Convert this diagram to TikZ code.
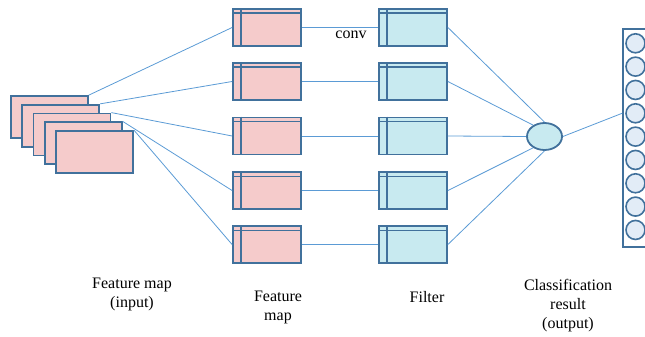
\documentclass[tikz,border=0pt]{standalone}
\usepackage{fontspec}
\setmainfont{Liberation Serif}
\usetikzlibrary{shapes.geometric}
\definecolor{pinkf}{HTML}{F5CBCB}
\definecolor{cyanf}{HTML}{C8EAF0}
\definecolor{outf}{HTML}{E2ECF7}
\definecolor{edge}{HTML}{41719C}
\definecolor{wire}{HTML}{5B9BD5}
\tikzset{
  inbox/.style={draw=edge, line width=1.8pt, fill=pinkf, minimum width=77pt, minimum height=42pt, inner sep=0pt},
  fmbox/.style={draw=edge, line width=1.8pt, minimum width=68pt, minimum height=37pt, inner sep=0pt},
  wirel/.style={draw=wire, line width=0.8pt},
  lbl/.style={font=\fontsize{16}{19}\selectfont, align=center, inner sep=0pt},
}
\begin{document}
\begin{tikzpicture}[x=1pt,y=-1pt]
\useasboundingbox (0,0) rectangle (645,337);
\clip (0,0) rectangle (645,337);
% feature maps and filters
\foreach \i/\y in {1/27.5,2/81.5,3/136,4/190.5,5/244.5}{
  \node[fmbox, fill=pinkf] (fm\i) at (267,\y) {};
  \node[fmbox, fill=cyanf] (fl\i) at (413,\y) {};
}
% input stack
\foreach \i in {0,...,4}{
  \node[inbox] (in\i) at ({49.5+11.25*\i},{117+8.75*\i}) {};
}
% inner lines
\foreach \n in {fm1,fm2,fm3,fm4,fm5,fl1,fl2,fl3,fl4,fl5}{
  \draw[edge, line width=1.8pt] ([xshift=9pt]\n.north west) -- ([xshift=9pt]\n.south west);
  \draw[edge, line width=1.2pt] ([yshift=-5pt]\n.north west) -- ([yshift=-5pt]\n.north east);
}
% ellipse
\node[ellipse, draw=edge, line width=1.8pt, fill=cyanf, minimum width=35pt, minimum height=27pt, inner sep=0pt] (ell) at (544.5,136.5) {};
% output column
\node[draw=edge, line width=1.8pt, fill=white, minimum width=30pt, minimum height=218pt, inner sep=0pt] (out) at (638,138) {};
\foreach \k in {1,...,9}{
  \node[circle, draw=edge, line width=1.6pt, fill=outf, minimum size=19pt, inner sep=0pt] (c\k) at (635.5,{43.3+23.33*(\k-1)}) {};
}
\coordinate (outin) at (out.west |- c4);
% connectors
\draw[wirel] (in0.north east) -- (fm1.west);
\draw[wirel] (in1.north east) -- (fm2.west);
\draw[wirel] (in2.north east) -- (fm3.west);
\draw[wirel] (in3.north east) -- (fm4.west);
\draw[wirel] (in4.north east) -- (fm5.west);
\foreach \i in {1,...,5}{
  \draw[wirel] (fm\i.east) -- (fl\i.west);
}
\draw[wirel] (fl1.east) -- (ell.90);
\draw[wirel] (fl2.east) -- (ell.135);
\draw[wirel] (fl3.east) -- (ell.180);
\draw[wirel] (fl4.east) -- (ell.225);
\draw[wirel] (fl5.east) -- (ell.270);
\draw[wirel] (ell.east) -- (outin);
% labels
\node[lbl] (conv) at (351,35) {conv};
\node[lbl] (lin) at (132,294.5) {Feature map\\(input)};
\node[lbl] (lfm) at (278,307.5) {Feature\\map};
\node[lbl] (lfl) at (427,297) {Filter};
\node[lbl] (lout) at (568,306) {Classification\\result\\(output)};
\end{tikzpicture}
\end{document}
